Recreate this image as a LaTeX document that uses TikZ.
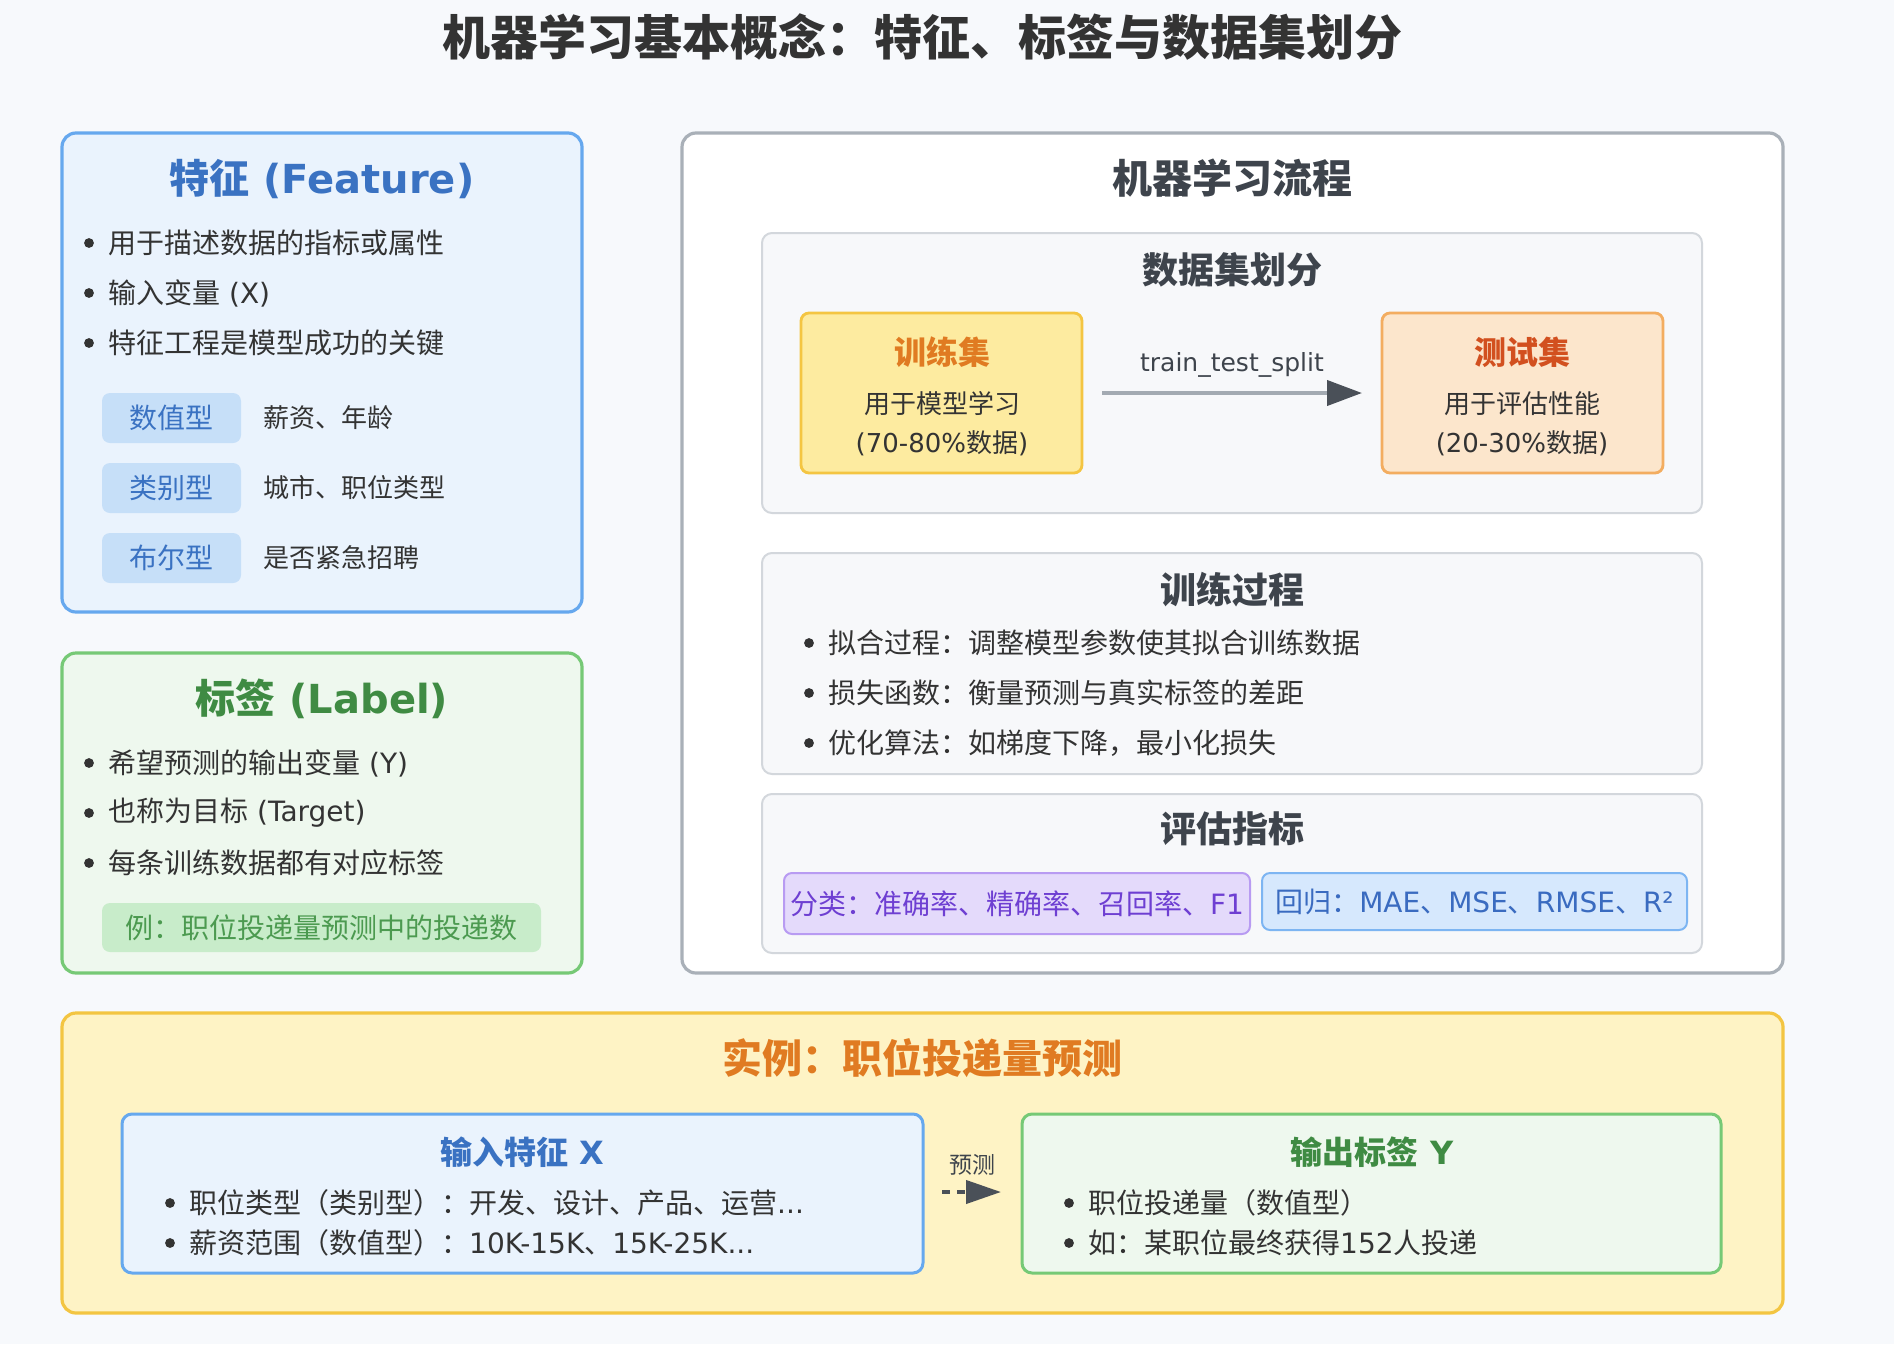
\documentclass[tikz,border=0pt]{standalone}
\usepackage{fontspec}
\setmainfont{Noto Sans CJK SC}
\newfontfamily\latfont{DejaVu Sans}
\newcommand\EN[1]{{\latfont #1}}
\newcommand\fsz[1]{\fontsize{#1}{#1}\selectfont}
\usetikzlibrary{arrows.meta}
\definecolor{bgc}{HTML}{F7F9FC}
\definecolor{titlec}{HTML}{333333}
\definecolor{bodyc}{HTML}{333333}
\definecolor{secc}{HTML}{3E444C}
\definecolor{featB}{HTML}{66A8EE}
\definecolor{featF}{HTML}{EAF3FD}
\definecolor{featT}{HTML}{3A72C2}
\definecolor{tagF}{HTML}{C6DFF8}
\definecolor{labB}{HTML}{76C976}
\definecolor{labF}{HTML}{EEF8EE}
\definecolor{labT}{HTML}{3F8B43}
\definecolor{exLF}{HTML}{C8ECCA}
\definecolor{exLT}{HTML}{4C9A50}
\definecolor{mainB}{HTML}{A9B0B8}
\definecolor{innerB}{HTML}{D3D7DC}
\definecolor{innerF}{HTML}{F7F8FA}
\definecolor{trainB}{HTML}{F4C542}
\definecolor{trainF}{HTML}{FDEBA0}
\definecolor{orangeT}{HTML}{E07B22}
\definecolor{testB}{HTML}{F3AD60}
\definecolor{testF}{HTML}{FCE6CC}
\definecolor{testT}{HTML}{D2501F}
\definecolor{arrowc}{HTML}{A3AAB2}
\definecolor{headc}{HTML}{4A5058}
\definecolor{clsB}{HTML}{B89BF2}
\definecolor{clsF}{HTML}{E4DAFB}
\definecolor{clsT}{HTML}{6E3FD2}
\definecolor{regB}{HTML}{7DB5F2}
\definecolor{regF}{HTML}{D6E8FD}
\definecolor{regT}{HTML}{3A6BC0}
\definecolor{exB}{HTML}{F3C542}
\definecolor{exF}{HTML}{FEF3C5}
\tikzset{
  panel/.style={rounded corners=14pt, line width=3.2pt, outer sep=0pt, inner sep=0pt, anchor=north west},
  innerpanel/.style={rounded corners=10pt, line width=2pt, draw=innerB, fill=innerF, outer sep=0pt, inner sep=0pt, anchor=north west},
  setbox/.style={rounded corners=8pt, line width=2.8pt, outer sep=0pt, inner sep=0pt, anchor=north west, minimum width=281pt, minimum height=160pt},
  tagbox/.style={rounded corners=8pt, fill=tagF, text=featT, font=\fsz{28}, outer sep=0pt, inner sep=0pt, anchor=north west, minimum width=139pt, minimum height=50pt},
  metric/.style={rounded corners=8pt, line width=2pt, font=\fsz{28}, outer sep=0pt, inner sep=0pt, anchor=north west},
  body/.style={inner sep=0pt, text=bodyc, font=\fsz{28}, anchor=west},
  desc/.style={inner sep=0pt, text=bodyc, font=\fsz{26}, anchor=west},
  sectitle/.style={inner sep=0pt, font=\fsz{40}\bfseries},
  subtitle/.style={inner sep=0pt, font=\fsz{36}\bfseries, text=secc},
  settitle/.style={inner sep=0pt, font=\fsz{32}\bfseries},
  settext/.style={inner sep=0pt, font=\fsz{26}, text=bodyc},
  bulletdot/.style={fill=bodyc},
}
\newcommand\bitem[4]{\fill[bulletdot] (#2-19,#3) circle[radius=4.9pt]; \node[body] (#1) at (#2,#3) {#4};}
\begin{document}
\begin{tikzpicture}[x=1pt,y=-1pt]
\useasboundingbox (0,0) rectangle (1894,1344);
\fill[bgc] (0,0) rectangle (1894,1344);

% title
\node[inner sep=0pt, font=\fsz{48}\bfseries, text=titlec] (title) at (922,37) {机器学习基本概念：特征、标签与数据集划分};

% ===== Feature =====
\node[panel, draw=featB, fill=featF, minimum width=520pt, minimum height=479pt] (feat) at (62,133) {};
\node[sectitle, text=featT] (featT) at (322,179) {特征\EN{\bfseries\ (Feature)}};
\bitem{f1}{108}{243}{用于描述数据的指标或属性}
\bitem{f2}{108}{293}{输入变量\EN{ (X)}}
\bitem{f3}{108}{343}{特征工程是模型成功的关键}
\node[tagbox] (tag1) at (102,393) {数值型};
\node[tagbox] (tag2) at (102,463) {类别型};
\node[tagbox] (tag3) at (102,533) {布尔型};
\node[desc] (d1) at (263,418) {薪资、年龄};
\node[desc] (d2) at (263,488) {城市、职位类型};
\node[desc] (d3) at (263,558) {是否紧急招聘};

% ===== Label =====
\node[panel, draw=labB, fill=labF, minimum width=520pt, minimum height=320pt] (lab) at (62,653) {};
\node[sectitle, text=labT] (labT) at (322,699) {标签\EN{\bfseries\ (Label)}};
\bitem{l1}{108}{763}{希望预测的输出变量\EN{ (Y)}}
\bitem{l2}{108}{813}{也称为目标\EN{ (Target)}}
\bitem{l3}{108}{863}{每条训练数据都有对应标签}
\node[rounded corners=8pt, fill=exLF, text=exLT, font=\fsz{28}, inner sep=0pt, outer sep=0pt, anchor=north west, minimum width=439pt, minimum height=49pt] (labex) at (102,903) {例：职位投递量预测中的投递数};

% ===== Main flow =====
\node[panel, draw=mainB, fill=white, minimum width=1101pt, minimum height=840pt] (main) at (682,133) {};
\node[sectitle, text=secc] (mainT) at (1232,178) {机器学习流程};

% data split
\node[innerpanel, minimum width=940pt, minimum height=280pt] (split) at (762,233) {};
\node[subtitle] (splitT) at (1232,270) {数据集划分};
\node[setbox, draw=trainB, fill=trainF] (train) at (801,313) {};
\node[settitle, text=orangeT] (trainT) at (942,352) {训练集};
\node[settext] (trainA) at (942,404) {用于模型学习};
\node[settext] (trainB) at (942,443) {\EN{(70-80\%}数据\EN{)}};
\node[setbox, draw=testB, fill=testF] (test) at (1382,313) {};
\node[settitle, text=testT] (testT) at (1522,352) {测试集};
\node[settext] (testA) at (1522,404) {用于评估性能};
\node[settext] (testB) at (1522,443) {\EN{(20-30\%}数据\EN{)}};
\node[inner sep=0pt, font=\latfont\fsz{25}, text=secc] (tts) at (1232,365) {train\_test\_split};
\draw[line width=4pt, draw=arrowc, shorten <=20pt, shorten >=20pt, -{Triangle[length=35pt,width=25pt,color=headc]}] (train.east |- 0,393) -- (test.west |- 0,393);

% training process
\node[innerpanel, minimum width=940pt, minimum height=221pt] (proc) at (762,553) {};
\node[subtitle] (procT) at (1232,590) {训练过程};
\bitem{p1}{828}{643}{拟合过程：调整模型参数使其拟合训练数据}
\bitem{p2}{828}{693}{损失函数：衡量预测与真实标签的差距}
\bitem{p3}{828}{743}{优化算法：如梯度下降，最小化损失}

% evaluation
\node[innerpanel, minimum width=940pt, minimum height=159pt] (eval) at (762,794) {};
\node[subtitle] (evalT) at (1232,829) {评估指标};
\node[metric, draw=clsB, fill=clsF, text=clsT, minimum width=466pt, minimum height=61pt] (cls) at (784,873) {分类：准确率、精确率、召回率、\EN{F1}};
\node[metric, draw=regB, fill=regF, text=regT, minimum width=425pt, minimum height=57pt] (reg) at (1262,873) {回归：\EN{MAE}、\EN{MSE}、\EN{RMSE}、\EN{R²}};

% ===== Example =====
\node[panel, draw=exB, fill=exF, minimum width=1721pt, minimum height=300pt] (ex) at (62,1013) {};
\node[sectitle, text=orangeT] (exT) at (922,1058) {实例：职位投递量预测};
\node[panel, rounded corners=10pt, line width=3pt, draw=featB, fill=featF, minimum width=801pt, minimum height=159pt] (input) at (122,1114) {};
\node[settitle, text=featT] (inputT) at (522,1152) {输入特征\EN{\bfseries\ X}};
\bitem{i1}{189}{1203}{职位类型（类别型）：开发、设计、产品、运营\EN{...}}
\bitem{i2}{189}{1243}{薪资范围（数值型）：\EN{10K-15K}、\EN{15K-25K...}}
\node[panel, rounded corners=10pt, line width=3pt, draw=labB, fill=labF, minimum width=699pt, minimum height=159pt] (output) at (1022,1114) {};
\node[settitle, text=labT] (outputT) at (1372,1152) {输出标签\EN{\bfseries\ Y}};
\bitem{o1}{1088}{1203}{职位投递量（数值型）}
\bitem{o2}{1088}{1243}{如：某职位最终获得\EN{152}人投递}
\node[inner sep=0pt, font=\fsz{23}, text=secc] (predT) at (972,1165) {预测};
\draw[line width=4pt, draw=headc, dash pattern=on 8pt off 7pt, shorten <=19pt, shorten >=21pt, -{Triangle[length=35pt,width=23pt]}] (input.east |- 0,1192) -- (output.west |- 0,1192);
\end{tikzpicture}
\end{document}
